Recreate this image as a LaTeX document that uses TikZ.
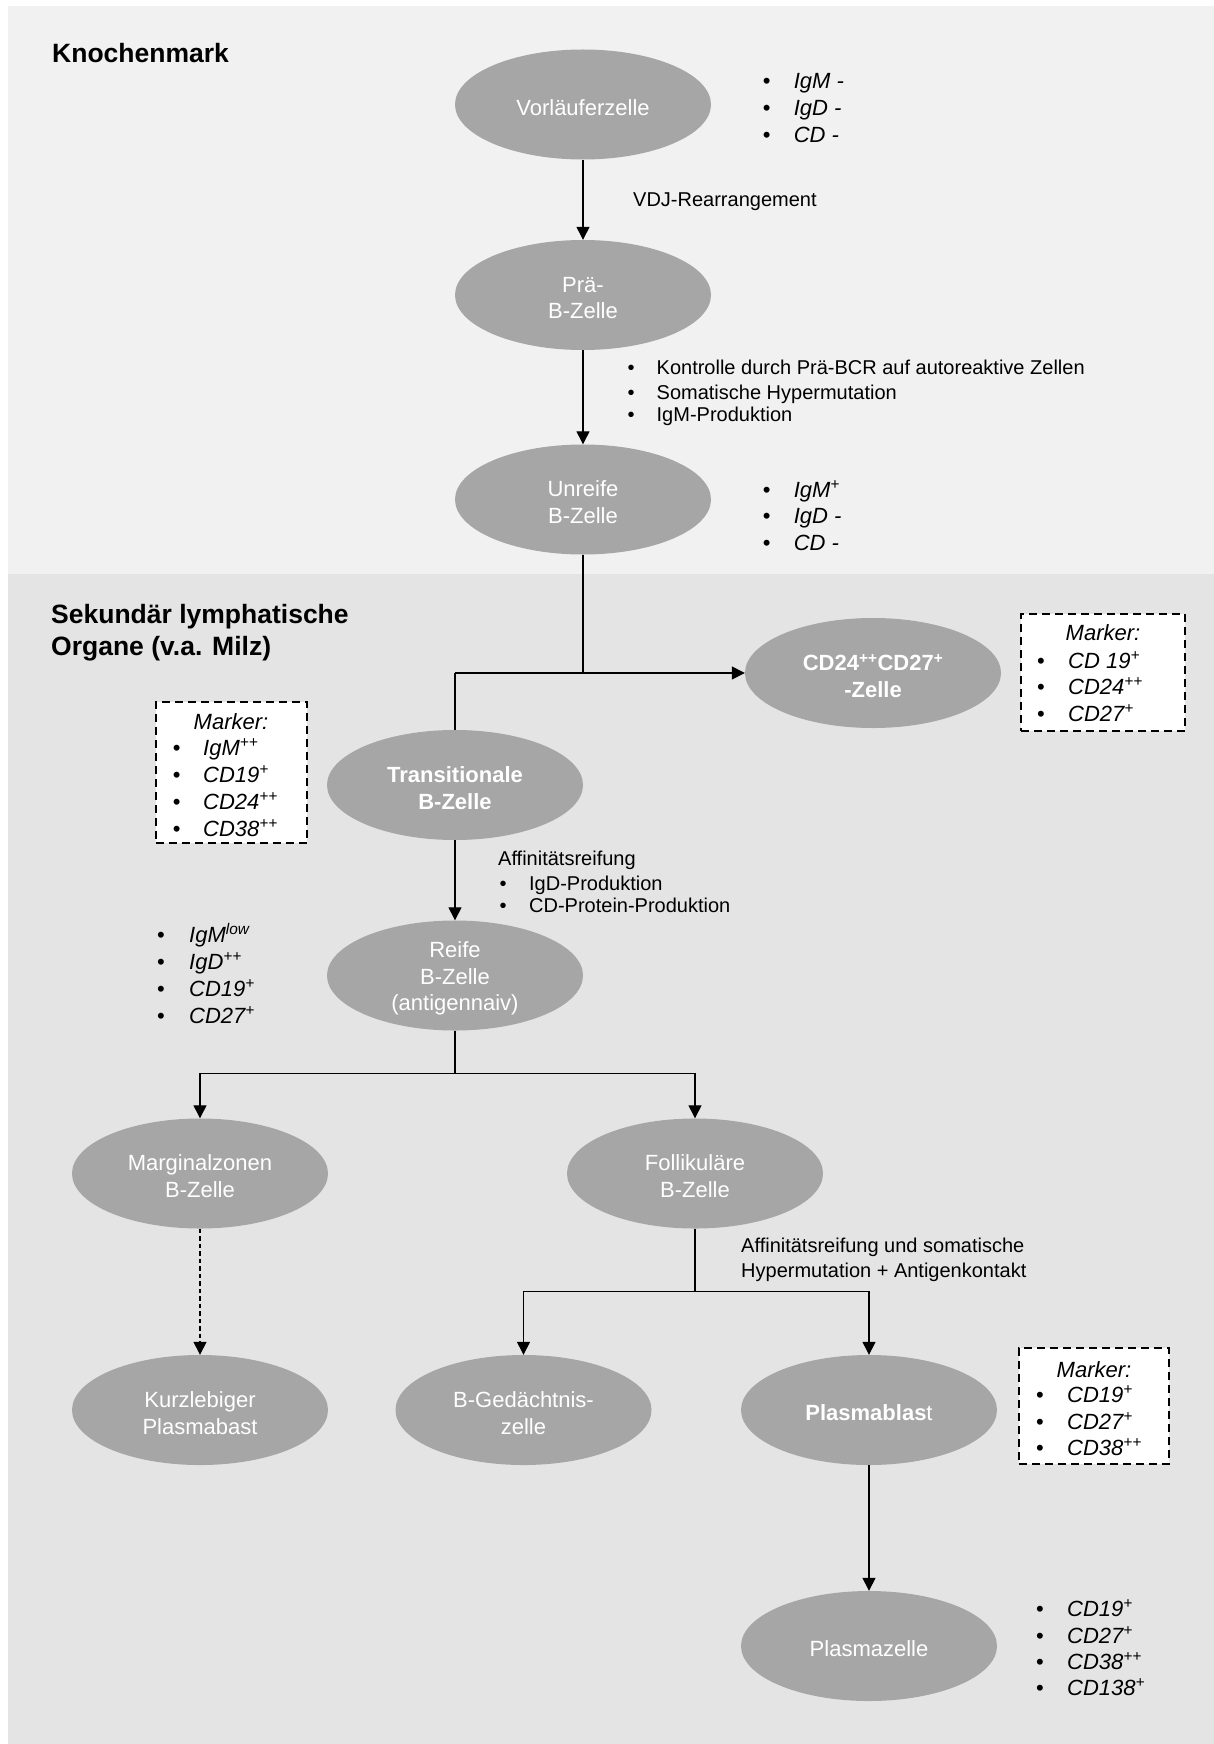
\documentclass[tikz,border=0pt]{standalone}
\usepackage{fontspec}
\setmainfont{Liberation Sans}
\usetikzlibrary{shapes.geometric,arrows.meta}

\definecolor{bgtop}{HTML}{F1F1F1}
\definecolor{bgbot}{HTML}{E4E4E4}
\definecolor{cellgray}{HTML}{A6A6A6}

% bullet followed by a fixed indent
\newcommand\bul{\makebox[31pt][l]{\upshape\textbullet}}
\newcommand\sps[1]{\textsuperscript{#1}}
% cell text line, set a little low without changing the box size
\newcommand\dn[1]{\raisebox{-3pt}[\height][\depth]{#1}}

\begin{document}
\begin{tikzpicture}[x=1pt,y=-1pt,
  cell/.style={ellipse, fill=cellgray, minimum width=256pt, minimum height=110pt,
    inner sep=0pt, text=white, align=center, font=\fontsize{22}{26.8}\selectfont},
  ttl/.style={font=\fontsize{26.5}{32}\selectfont\bfseries, inner sep=0pt, anchor=base west},
  lbl/.style={font=\fontsize{20}{24}\selectfont, inner sep=0pt, anchor=base west},
  mk/.style={font=\fontsize{22}{26}\selectfont\itshape, inner sep=0pt, anchor=base west},
  mkhead/.style={font=\fontsize{22}{26}\selectfont\itshape, inner sep=0pt, anchor=base},
  markbox/.style={draw=black, fill=white, line width=2pt, dash pattern=on 8pt off 5pt,
    inner sep=0pt},
  conn/.style={line width=1.3pt, draw=black},
  arr/.style={conn, -{Triangle[length=13pt,width=13pt]}},
]
\useasboundingbox (0,0) rectangle (1214,1744);

% two zones
\fill[bgtop] (8,6) rectangle (1214,573.5);
\fill[bgbot] (8,573.5) rectangle (1214,1744);

% zone titles
\node[ttl] (tknochen) at (52,63) {Knochenmark};
\node[ttl] (tsek1) at (51,623) {Sekundär lymphatische};
\node[ttl] (tsek2) at (51,655) {Organe (v.a. Milz)};

% cells
\node[cell] (vor)    at (583,104.5) {\dn{Vorläuferzelle}};
\node[cell] (prae)   at (583,295)   {\dn{Prä-}\\\dn{B-Zelle}};
\node[cell] (unreif) at (583,499.5) {\dn{Unreife}\\\dn{B-Zelle}};
\node[cell, font=\fontsize{22}{26.8}\selectfont\bfseries] (cdz) at (873,673)
  {\dn{CD24\sps{++}CD27\sps{+}}\\\dn{-Zelle}};
\node[cell, font=\fontsize{22}{26.8}\selectfont\bfseries] (trans) at (455,785)
  {\dn{Transitionale}\\\dn{B-Zelle}};
\node[cell] (reif)   at (455,975.5) {\dn{Reife}\\\dn{B-Zelle}\\\dn{(antigennaiv)}};
\node[cell] (marg)   at (200,1173.5) {\dn{Marginalzonen}\\\dn{B-Zelle}};
\node[cell] (foll)   at (695,1173.5) {\dn{Follikuläre}\\\dn{B-Zelle}};
\node[cell] (kurz)   at (200,1410) {\dn{Kurzlebiger}\\\dn{Plasmabast}};
\node[cell] (gedae)  at (523.5,1410) {\dn{B-Gedächtnis-}\\\dn{zelle}};
\node[cell] (blast)  at (869,1410) {\dn{\textbf{Plasmablas}t}};
\node[cell] (pzelle) at (869,1646) {\dn{Plasmazelle}};

% junction points of the branching connectors
\coordinate (j1)  at (583,673);
\coordinate (j1l) at (455,673);
\coordinate (j2)  at (455,1073.5);
\coordinate (j3)  at (695,1291.7);

% connectors
\draw[arr] (vor) -- (prae);
\draw[arr] (prae) -- (unreif);
\draw[conn] (unreif) -- (j1);
\draw[arr] (j1l) -- (cdz.west);
\draw[conn] (j1l) -- (trans.north);
\draw[arr] (trans) -- (reif);
\draw[conn] (reif) -- (j2);
\draw[arr] (j2) -| (marg.north);
\draw[arr] (j2) -| (foll.north);
\draw[arr, dash pattern=on 4.5pt off 3pt] (marg) -- (kurz);
\draw[conn] (foll) -- (j3);
\draw[arr] (j3) -| (gedae.north);
\draw[arr] (j3) -| (blast.north);
\draw[arr] (blast) -- (pzelle);

% marker lists beside the bone marrow cells
\node[mk] (vl1) at (762.6,89)  {\bul IgM -};
\node[mk] (vl2) at (762.6,116) {\bul IgD -};
\node[mk] (vl3) at (762.6,143) {\bul CD -};

\node[mk] (ul1) at (762.6,497) {\bul IgM\sps{+}};
\node[mk] (ul2) at (762.6,523) {\bul IgD -};
\node[mk] (ul3) at (762.6,550) {\bul CD -};

% process labels
\node[lbl] (vdj) at (633,207) {VDJ-Rearrangement};
\node[lbl] (pl1) at (627.5,374) {\makebox[29pt][l]{\textbullet}Kontrolle durch Prä-BCR auf autoreaktive Zellen};
\node[lbl] (pl2) at (627.5,399) {\makebox[29pt][l]{\textbullet}Somatische Hypermutation};
\node[lbl] (pl3) at (627.5,421) {\makebox[29pt][l]{\textbullet}IgM-Produktion};

\node[lbl] (af0) at (498,865) {Affinitätsreifung};
\node[lbl] (af1) at (499.5,890) {\makebox[29.5pt][l]{\textbullet}IgD-Produktion};
\node[lbl] (af2) at (499.5,912) {\makebox[29.5pt][l]{\textbullet}CD-Protein-Produktion};

\node[lbl] (fo1) at (741,1252.5) {Affinitätsreifung und somatische};
\node[lbl] (fo2) at (741,1277.5) {Hypermutation + Antigenkontakt};

% CD24/CD27 marker box
\node[markbox, minimum width=164pt, minimum height=117pt] (boxa) at (1103,672.5) {};
\node[mkhead] (boxah) at (1103,640.7) {Marker:};
\node[mk] (ba1) at (1037,668) {\bul CD 19\sps{+}};
\node[mk] (ba2) at (1037,694) {\bul CD24\sps{++}};
\node[mk] (ba3) at (1037,721) {\bul CD27\sps{+}};

% transitional cell marker box
\node[markbox, minimum width=151pt, minimum height=141pt] (boxb) at (231,772.3) {};
\node[mkhead] (boxbh) at (231,729.5) {Marker:};
\node[mk] (bb1) at (172.6,755.5) {\makebox[30.4pt][l]{\upshape\textbullet}IgM\sps{++}};
\node[mk] (bb2) at (172.6,782)   {\makebox[30.4pt][l]{\upshape\textbullet}CD19\sps{+}};
\node[mk] (bb3) at (172.6,809)   {\makebox[30.4pt][l]{\upshape\textbullet}CD24\sps{++}};
\node[mk] (bb4) at (172.6,836)   {\makebox[30.4pt][l]{\upshape\textbullet}CD38\sps{++}};

% mature naive cell markers
\node[mk] (rl1) at (157,942)  {\makebox[32pt][l]{\upshape\textbullet}IgM\sps{low}};
\node[mk] (rl2) at (157,969)  {\makebox[32pt][l]{\upshape\textbullet}IgD\sps{++}};
\node[mk] (rl3) at (157,996)  {\makebox[32pt][l]{\upshape\textbullet}CD19\sps{+}};
\node[mk] (rl4) at (157,1023) {\makebox[32pt][l]{\upshape\textbullet}CD27\sps{+}};

% plasmablast marker box
\node[markbox, minimum width=150pt, minimum height=116pt] (boxc) at (1094,1406) {};
\node[mkhead] (boxch) at (1094,1377) {Marker:};
\node[mk] (bc1) at (1036,1402) {\bul CD19\sps{+}};
\node[mk] (bc2) at (1036,1429) {\bul CD27\sps{+}};
\node[mk] (bc3) at (1036,1455) {\bul CD38\sps{++}};

% plasma cell markers
\node[mk] (zl1) at (1036,1616) {\bul CD19\sps{+}};
\node[mk] (zl2) at (1036,1643) {\bul CD27\sps{+}};
\node[mk] (zl3) at (1036,1669) {\bul CD38\sps{++}};
\node[mk] (zl4) at (1036,1695) {\bul CD138\sps{+}};
\end{tikzpicture}
\end{document}
